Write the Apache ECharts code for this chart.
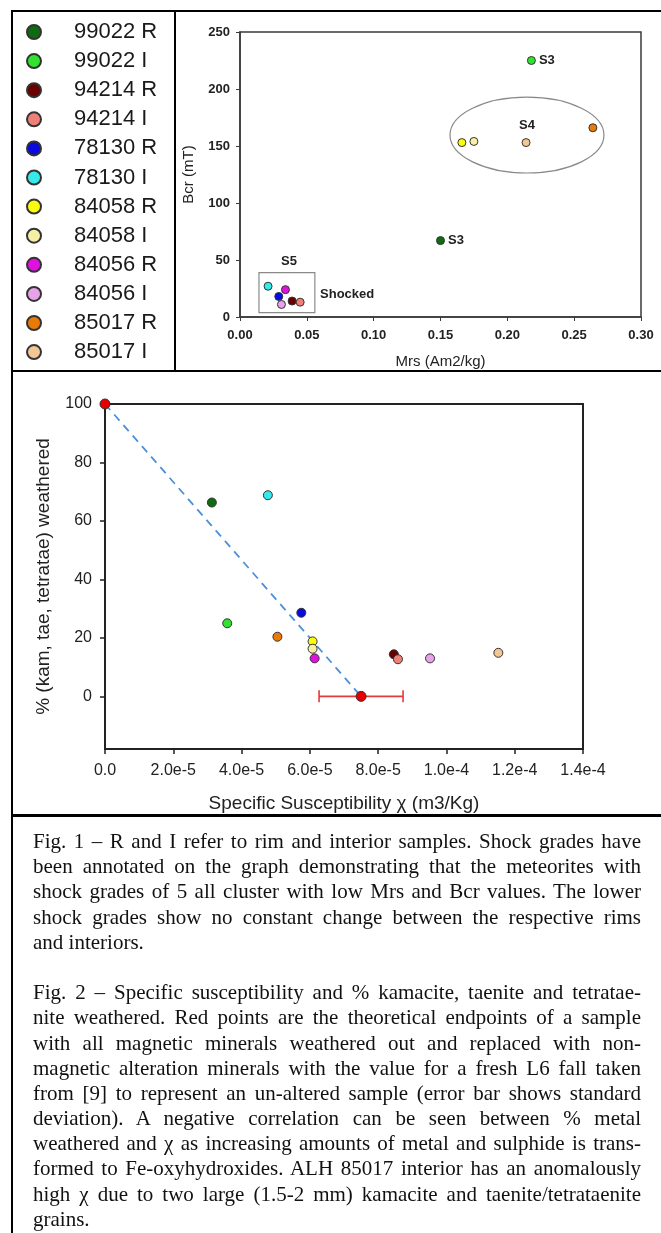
<!DOCTYPE html>
<html>
<head>
<meta charset="utf-8">
<script src="https://cdn.jsdelivr.net/npm/echarts@6/dist/echarts.min.js"></script>
<style>
  body { margin: 0; background: #fff; }
  #wrap { position: relative; width: 661px; height: 1233px; overflow: hidden; }
  #chart { position: absolute; left: 0; top: 0; width: 661px; height: 1233px; }
  #caption {
    position: absolute; left: 33px; top: 829px; width: 608px;
    font-family: 'Liberation Serif', 'Times New Roman', serif;
    font-size: 21px; line-height: 25.2px; color: #111;
  }
  #caption div { white-space: nowrap; text-align: justify; text-align-last: justify; height: 25.2px; }
  #caption div.last { text-align-last: left; }
</style>
</head>
<body>
<div id="wrap">
  <div id="chart"></div>
  <div id="caption"></div>
</div>
<script>
// samples (R = rim, I = interior)
const samples = ['99022 R', '99022 I', '94214 R', '94214 I', '78130 R', '78130 I',
                 '84058 R', '84058 I', '84056 R', '84056 I', '85017 R', '85017 I'];
const sampleColors = ['#0f6a12', '#2fe32f', '#6a0000', '#ee8078', '#0a0ae0', '#36eaea',
                      '#fbfb10', '#f6f0a4', '#e010e0', '#e8a2ea', '#e87a08', '#f3c696'];

// Fig 1: Mrs vs Bcr
const mrs = [0.150, 0.218, 0.039, 0.045, 0.029, 0.021, 0.166, 0.175, 0.034, 0.031, 0.264, 0.214];
const bcr = [67, 225, 14, 13, 18, 27, 153, 154, 24, 11, 166, 153];
const shockLabel = ['S3', 'S3', '', '', '', '', '', '', '', '', '', ''];

// Fig 2: specific susceptibility vs % weathered
const chi = [3.13e-5, 3.58e-5, 8.46e-5, 8.58e-5, 5.75e-5, 4.77e-5,
             6.08e-5, 6.08e-5, 6.14e-5, 9.52e-5, 5.05e-5, 1.152e-4];
const weathered = [66.3, 25.0, 14.4, 12.7, 28.6, 68.8, 18.8, 16.3, 13.0, 13.0, 20.4, 14.9];
const endpointChi = [0, 7.5e-5];
const endpointWeathered = [100, 0];
const freshChiSd = 1.23e-5;
const weatheredTicks = [0, 20, 40, 60, 80, 100];

// group annotations on fig 1 (data units)
const s4Group = { mrs: 0.2147, bcr: 159.6, rMrs: 0.0576, rBcr: 33.3 };
const s5Box = [[0.0142, 38.9], [0.056, 3.8]];
const notes = [
  { text: 'S4', at: [0.2147, 168.4], align: 'center' },
  { text: 'S5', at: [0.0367, 49.1], align: 'center' },
  { text: 'Shocked', at: [0.0599, 20.2], align: 'left' }
];

const captionLines = [
  'Fig. 1 – R and I refer to rim and interior samples. Shock grades have',
  'been annotated on the graph demonstrating that the meteorites with',
  'shock grades of 5 all cluster with low Mrs and Bcr values. The lower',
  'shock grades show no constant change between the respective rims',
  '*and interiors.',
  '*',
  'Fig. 2 – Specific susceptibility and % kamacite, taenite and tetratae-',
  'nite weathered. Red points are the theoretical endpoints of a sample',
  'with all magnetic minerals weathered out and replaced with non-',
  'magnetic alteration minerals with the value for a fresh L6 fall taken',
  'from [9] to represent an un-altered sample (error bar shows standard',
  'deviation). A negative correlation can be seen between % metal',
  'weathered and χ as increasing amounts of metal and sulphide is trans-',
  'formed to Fe-oxyhydroxides. ALH 85017 interior has an anomalously',
  'high χ due to two large (1.5-2 mm) kamacite and taenite/tetrataenite',
  '*grains.'
];

const cap = document.getElementById('caption');
captionLines.forEach(l => {
  const d = document.createElement('div');
  if (l.startsWith('*')) { d.className = 'last'; l = l.slice(1); }
  d.textContent = l || '\u00a0';
  cap.appendChild(d);
});

const font = "'Liberation Sans', Arial, sans-serif";
const ink = '#222';
const axisInk = '#3a3a3a';

const chart = echarts.init(document.getElementById('chart'));

const fig1Series = samples.map((name, i) => ({
  name,
  type: 'scatter',
  xAxisIndex: 0, yAxisIndex: 0,
  symbolSize: 8,
  itemStyle: { color: sampleColors[i], borderColor: '#333', borderWidth: 1, opacity: 1 },
  label: {
    show: !!shockLabel[i], position: 'right', distance: 3,
    formatter: shockLabel[i], fontFamily: font, fontWeight: 'bold', fontSize: 13, color: ink
  },
  data: [[mrs[i], bcr[i]]],
  z: 5
}));

const fig2Series = samples.map((name, i) => ({
  name,
  type: 'scatter',
  xAxisIndex: 1, yAxisIndex: 1,
  symbolSize: 9,
  itemStyle: { color: sampleColors[i], borderColor: '#333', borderWidth: 1, opacity: 1 },
  data: [[chi[i], weathered[i]]],
  z: 5
}));

const option = {
  animation: false,
  textStyle: { fontFamily: font },
  legend: {
    data: samples,
    orient: 'vertical',
    left: 26, top: 21, padding: 0,
    itemWidth: 14, itemHeight: 14,
    itemGap: 7.1,
    icon: 'circle',
    selectedMode: false,
    textStyle: { fontFamily: font, fontSize: 22, color: '#1a1a1a', lineHeight: 22, padding: [0, 0, 0, 28] }
  },
  grid: [
    { left: 240, top: 32, width: 401, height: 285, show: true, borderColor: axisInk, borderWidth: 1.5, backgroundColor: 'transparent' },
    { left: 105, top: 404, width: 478, height: 345, show: true, borderColor: '#222', borderWidth: 2, backgroundColor: 'transparent' }
  ],
  xAxis: [
    {
      gridIndex: 0, type: 'value', min: 0, max: 0.3, interval: 0.05,
      axisLine: { show: true, onZero: false, lineStyle: { color: axisInk, width: 1.5 } },
      axisTick: { show: true, length: 4, lineStyle: { color: axisInk } },
      splitLine: { show: false },
      axisLabel: { formatter: v => v.toFixed(2), fontSize: 13, fontWeight: 'bold', color: ink, margin: 12 },
      name: 'Mrs (Am2/kg)', nameLocation: 'middle', nameGap: 37,
      nameTextStyle: { fontSize: 15, color: ink }
    },
    {
      gridIndex: 1, type: 'value', min: 0, max: 1.4e-4, interval: 2e-5,
      axisLine: { show: true, onZero: false, lineStyle: { color: '#222', width: 2 } },
      axisTick: { show: true, length: 5, lineStyle: { color: '#222', width: 1.5 } },
      splitLine: { show: false },
      axisLabel: { formatter: v => v === 0 ? '0.0' : v.toExponential(1), fontSize: 16, color: ink, margin: 14 },
      name: 'Specific Susceptibility χ (m3/Kg)', nameLocation: 'middle', nameGap: 45,
      nameTextStyle: { fontSize: 19, color: ink }
    }
  ],
  yAxis: [
    {
      gridIndex: 0, type: 'value', min: 0, max: 250, interval: 50,
      axisLine: { show: true, onZero: false, lineStyle: { color: axisInk, width: 1.5 } },
      axisTick: { show: true, length: 4, lineStyle: { color: axisInk } },
      splitLine: { show: false },
      axisLabel: { fontSize: 13, fontWeight: 'bold', color: ink, margin: 10 },
      name: 'Bcr (mT)', nameLocation: 'middle', nameGap: 44,
      nameTextStyle: { fontSize: 15, color: ink }
    },
    {
      gridIndex: 1, type: 'value', min: -18, max: 100,
      axisLine: { show: true, onZero: false, lineStyle: { color: '#222', width: 2 } },
      axisTick: { show: true, length: 5, customValues: weatheredTicks, lineStyle: { color: '#222', width: 1.5 } },
      splitLine: { show: false },
      axisLabel: { customValues: weatheredTicks, fontSize: 16, color: ink, margin: 13 },
      name: '% (kam, tae, tetratae) weathered', nameLocation: 'middle', nameGap: 52,
      nameTextStyle: { fontSize: 19, color: ink }
    }
  ],
  series: [
    ...fig1Series,
    {
      name: 'trend', type: 'line', xAxisIndex: 1, yAxisIndex: 1,
      data: endpointChi.map((c, i) => [c, endpointWeathered[i]]),
      symbol: 'none', lineStyle: { color: '#4a90dc', width: 1.8, type: [8, 6] },
      z: 2
    },
    {
      name: 'sd', type: 'custom', xAxisIndex: 1, yAxisIndex: 1,
      data: [[endpointChi[1] - freshChiSd, endpointChi[1] + freshChiSd, endpointWeathered[1]]],
      encode: { x: [0, 1], y: 2 },
      renderItem: (params, api) => {
        const a = api.coord([api.value(0), api.value(2)]);
        const b = api.coord([api.value(1), api.value(2)]);
        const h = 6;
        const st = { stroke: '#e53a3a', lineWidth: 1.6 };
        return {
          type: 'group', children: [
            { type: 'line', shape: { x1: a[0], y1: a[1], x2: b[0], y2: b[1] }, style: st },
            { type: 'line', shape: { x1: a[0], y1: a[1] - h, x2: a[0], y2: a[1] + h }, style: st },
            { type: 'line', shape: { x1: b[0], y1: b[1] - h, x2: b[0], y2: b[1] + h }, style: st }
          ]
        };
      },
      z: 3
    },
    ...fig2Series,
    {
      name: 'endpoints', type: 'scatter', xAxisIndex: 1, yAxisIndex: 1,
      data: endpointChi.map((c, i) => [c, endpointWeathered[i]]),
      symbolSize: 10, clip: false,
      itemStyle: { color: '#e80000', borderColor: '#333', borderWidth: 1, opacity: 1 },
      z: 6
    }
  ]
};

chart.setOption(option);

// table rules, S4 ellipse, S5 box and notes
const px = p => chart.convertToPixel({ gridIndex: 0 }, p);
const c = px([s4Group.mrs, s4Group.bcr]);
const e = px([s4Group.mrs + s4Group.rMrs, s4Group.bcr + s4Group.rBcr]);
const b0 = px(s5Box[0]);
const b1 = px(s5Box[1]);
const rule = (x1, y1, x2, y2, w) => ({
  type: 'line', shape: { x1, y1, x2, y2 }, style: { stroke: '#000', lineWidth: w }, silent: true
});

chart.setOption({
  graphic: [
    rule(12, 11, 661, 11, 2),
    rule(12, 10, 12, 1233, 2),
    rule(175, 11, 175, 371, 2),
    rule(12, 371, 661, 371, 2),
    rule(12, 815.5, 661, 815.5, 3),
    {
      type: 'ellipse', shape: { cx: c[0], cy: c[1], rx: e[0] - c[0], ry: c[1] - e[1] },
      style: { fill: 'none', stroke: '#8a8a8a', lineWidth: 1.2 }, silent: true
    },
    {
      type: 'rect', shape: { x: b0[0], y: b0[1], width: b1[0] - b0[0], height: b1[1] - b0[1] },
      style: { fill: 'none', stroke: '#8a8a8a', lineWidth: 1.2 }, silent: true
    },
    ...notes.map(n => {
      const p = px(n.at);
      return {
        type: 'text', x: p[0], y: p[1], silent: true,
        style: { text: n.text, font: "bold 13px 'Liberation Sans', Arial", fill: ink, align: n.align, verticalAlign: 'middle' }
      };
    })
  ]
});
</script>
</body>
</html>
